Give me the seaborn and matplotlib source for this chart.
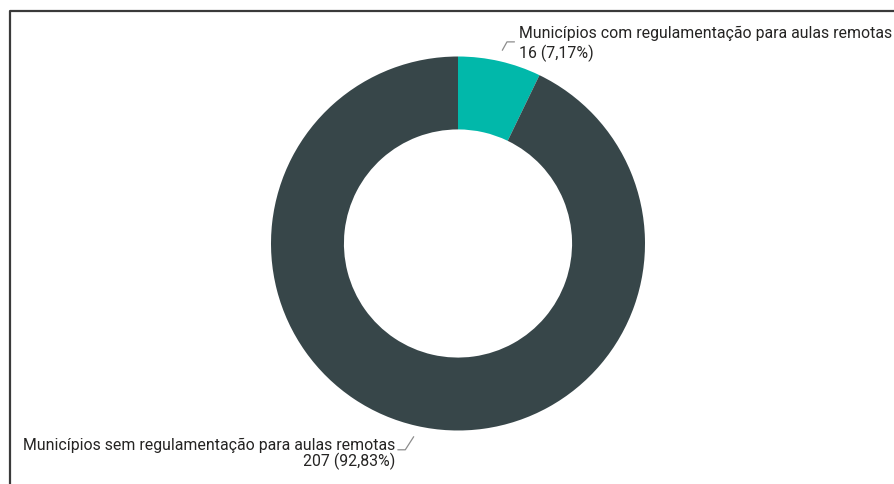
import numpy as np
import matplotlib
matplotlib.use("Agg")
import matplotlib.pyplot as plt
import seaborn as sns

# Municípios por existência de regulamentação para aulas remotas
categorias = ["Municípios com regulamentação para aulas remotas",
              "Municípios sem regulamentação para aulas remotas"]
quantidades = [16, 207]
percentuais = ["7,17%", "92,83%"]
cores = ["#01B8AA", "#374649"]

sns.set_theme(style="white")
plt.rcParams["font.family"] = ["Roboto", "DejaVu Sans"]
palette = sns.color_palette(cores)

W, H = 894, 484
fig = plt.figure(figsize=(W / 100, H / 100), dpi=100)
fig.patch.set_facecolor("white")

# frame lines of the visual container
frame = fig.add_axes([0, 0, 1, 1], zorder=-1)
frame.set_xlim(0, W)
frame.set_ylim(H, 0)
frame.axis("off")
frame.plot([9.5, 9.5, W + 2], [H + 2, 10.5, 10.5], color="#3a3a3a", lw=1.6,
           solid_capstyle="butt")

# donut
cx, cy, R = 458, 243.5, 187
ax = fig.add_axes([(cx - R) / W, (H - cy - R) / H, 2 * R / W, 2 * R / H])
wedges, _ = ax.pie(quantidades, colors=palette, startangle=90, counterclock=False,
                   radius=1.0, wedgeprops=dict(width=0.39, edgecolor="none"))
ax.set_xlim(-1, 1)
ax.set_ylim(-1, 1)
ax.set_aspect("equal")
ax.axis("off")

txt_color = "#252423"
line_color = "#8c8c8c"
fs = 11.4

for i, w in enumerate(wedges):
    ang = np.deg2rad((w.theta1 + w.theta2) / 2)
    x0, y0 = 1.06 * np.cos(ang), 1.06 * np.sin(ang)
    if y0 > 0:
        x1, y1 = x0 + 0.025, y0 + 0.045
        x2 = x1 + 0.04
        ax.plot([x0, x1, x2], [y0, y1, y1], color=line_color, lw=0.9, clip_on=False)
        tx = x2 + 0.022
        ax.text(tx, y1 + 0.045, categorias[i], ha="left", va="center",
                fontsize=fs, color=txt_color, clip_on=False)
        ax.text(tx, y1 - 0.062, f"{quantidades[i]} ({percentuais[i]})", ha="left",
                va="center", fontsize=fs, color=txt_color, clip_on=False)
    else:
        x1, y1 = x0 - 0.045, y0 - 0.07
        x2 = x1 - 0.04
        ax.plot([x0, x1, x2], [y0, y1, y1], color=line_color, lw=0.9, clip_on=False)
        tx = x2 - 0.012
        ax.text(tx, y1 + 0.022, categorias[i], ha="right", va="center",
                fontsize=fs, color=txt_color, clip_on=False)
        ax.text(tx, y1 - 0.060, f"{quantidades[i]} ({percentuais[i]})", ha="right",
                va="center", fontsize=fs, color=txt_color, clip_on=False)

fig.savefig("out.png", dpi=100, facecolor="white")
